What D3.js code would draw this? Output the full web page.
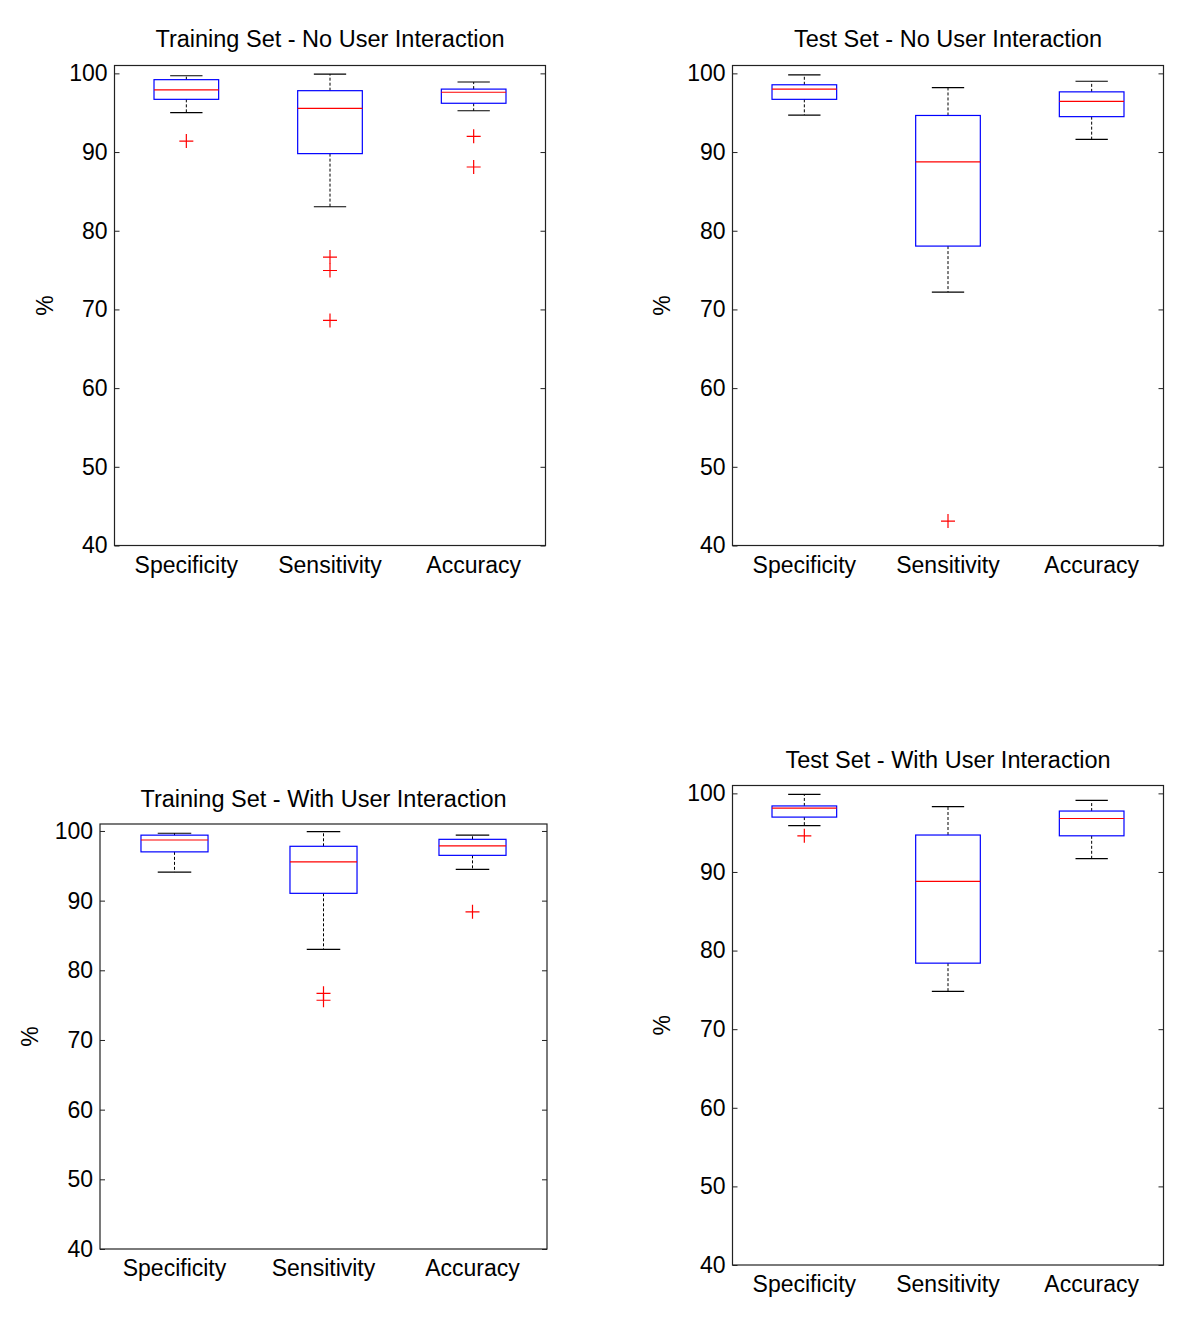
<!DOCTYPE html>
<html>
<head>
<meta charset="utf-8">
<script src="https://cdn.jsdelivr.net/npm/d3@7"></script>
<style>
  html, body { margin: 0; padding: 0; background: #fff; }
  svg { display: block; }
  text { font-family: "Liberation Sans", Arial, Helvetica, sans-serif; fill: #000; }
</style>
</head>
<body>
<svg id="chart" width="1200" height="1324"></svg>
<script>
// ---------- DATA ----------
const categories = ["Specificity", "Sensitivity", "Accuracy"];
const yTicks = [40, 50, 60, 70, 80, 90, 100];
const titles = [
  "Training Set - No User Interaction",
  "Test Set - No User Interaction",
  "Training Set - With User Interaction",
  "Test Set - With User Interaction"
];
const yLabel = "%";

// box stats per category: [lower whisker, Q1, median, Q3, upper whisker]
const trainNoUI = [
  [95.0, 96.7, 97.9, 99.2, 99.7],
  [83.05, 89.8, 95.55, 97.8, 99.9],
  [95.25, 96.2, 97.6, 98.0, 98.9]
];
const trainNoUIOutliers = [[91.4], [76.65, 74.95, 68.6], [92.0, 88.1]];

const testNoUI = [
  [94.7, 96.7, 98.0, 98.55, 99.8],
  [72.2, 78.05, 88.75, 94.65, 98.2],
  [91.6, 94.5, 96.45, 97.65, 99.0]
];
const testNoUIOutliers = [[], [43.1], []];

const trainWithUI = [
  [94.1, 97.0, 98.7, 99.4, 99.67],
  [83.0, 91.05, 95.55, 97.8, 99.9],
  [94.5, 96.5, 97.85, 98.8, 99.4]
];
const trainWithUIOutliers = [[], [76.7, 75.7], [88.4]];

const testWithUI = [
  [95.9, 96.98, 98.13, 98.4, 99.87],
  [74.8, 78.4, 88.8, 94.7, 98.3],
  [91.7, 94.6, 96.8, 97.75, 99.1]
];
const testWithUIOutliers = [[94.6], [], []];

// ---------- LAYOUT ----------
const yDomain = [40, 101];
const boxWidth = 0.45;   // in category units
const capWidth = 0.225;
const layouts = [
  { left: 114.5, right: 545.5, top: 65.5, bottom: 545.5, titleY: 47, ylabX: 45 },
  { left: 732.5, right: 1163.5, top: 65.5, bottom: 545.5, titleY: 47, ylabX: 662 },
  { left: 100, right: 547, top: 824, bottom: 1249, titleY: 806.5, ylabX: 30 },
  { left: 732.5, right: 1163.5, top: 785.5, bottom: 1265, titleY: 768, ylabX: 662 }
];
const panelStats = [trainNoUI, testNoUI, trainWithUI, testWithUI];
const panelOutliers = [trainNoUIOutliers, testNoUIOutliers, trainWithUIOutliers, testWithUIOutliers];

const svg = d3.select("#chart");
const FS = 23;

panelStats.forEach((stats, pi) => {
  const L = layouts[pi];
  const x = d3.scaleLinear().domain([0.5, 3.5]).range([L.left, L.right]);
  const y = d3.scaleLinear().domain(yDomain).range([L.bottom, L.top]);
  const g = svg.append("g");

  // left axis with inward ticks
  const la = g.append("g").attr("transform", `translate(${L.left},0)`)
    .call(d3.axisLeft(y).tickValues(yTicks).tickSizeInner(-5).tickSizeOuter(0).tickPadding(7));
  la.select(".domain").remove();
  la.selectAll("line").attr("stroke", "#222");
  la.selectAll("text").attr("font-size", FS).attr("font-family", "Liberation Sans, Arial, sans-serif").attr("fill", "#000");

  const ra = g.append("g").attr("transform", `translate(${L.right},0)`)
    .call(d3.axisRight(y).tickValues(yTicks).tickSizeInner(-5).tickSizeOuter(0).tickFormat(""));
  ra.select(".domain").remove();
  ra.selectAll("line").attr("stroke", "#222");

  // frame
  g.append("rect")
    .attr("x", L.left).attr("y", L.top)
    .attr("width", L.right - L.left).attr("height", L.bottom - L.top)
    .attr("fill", "none").attr("stroke", "#222").attr("stroke-width", 1.2);

  // category labels
  g.selectAll("text.cat").data(categories).join("text")
    .attr("class", "cat")
    .attr("x", (d, i) => x(i + 1))
    .attr("y", L.bottom + 27)
    .attr("text-anchor", "middle")
    .attr("font-size", FS)
    .text(d => d);

  // title
  g.append("text")
    .attr("x", (L.left + L.right) / 2)
    .attr("y", L.titleY)
    .attr("text-anchor", "middle")
    .attr("font-size", 23.5)
    .text(titles[pi]);

  // y label
  g.append("text")
    .attr("transform", `translate(${L.ylabX},${(L.top + L.bottom) / 2}) rotate(-90)`)
    .attr("text-anchor", "middle")
    .attr("dy", "0.35em")
    .attr("font-size", FS)
    .text(yLabel);

  // boxes
  stats.forEach((s, i) => {
    const c = i + 1;
    const [lw, q1, med, q3, uw] = s;
    const bg = g.append("g");
    // whiskers (dashed)
    bg.append("line").attr("x1", x(c)).attr("x2", x(c)).attr("y1", y(q3)).attr("y2", y(uw))
      .attr("stroke", "#000").attr("stroke-width", 1).attr("stroke-dasharray", "3,2");
    bg.append("line").attr("x1", x(c)).attr("x2", x(c)).attr("y1", y(q1)).attr("y2", y(lw))
      .attr("stroke", "#000").attr("stroke-width", 1).attr("stroke-dasharray", "3,2");
    // caps
    [lw, uw].forEach(v => {
      bg.append("line")
        .attr("x1", x(c - capWidth / 2)).attr("x2", x(c + capWidth / 2))
        .attr("y1", y(v)).attr("y2", y(v))
        .attr("stroke", "#000").attr("stroke-width", 1.2);
    });
    // box
    bg.append("rect")
      .attr("x", x(c - boxWidth / 2)).attr("y", y(q3))
      .attr("width", x(c + boxWidth / 2) - x(c - boxWidth / 2))
      .attr("height", y(q1) - y(q3))
      .attr("fill", "none").attr("stroke", "#0000ff").attr("stroke-width", 1.2);
    // median
    bg.append("line")
      .attr("x1", x(c - boxWidth / 2)).attr("x2", x(c + boxWidth / 2))
      .attr("y1", y(med)).attr("y2", y(med))
      .attr("stroke", "#ff0000").attr("stroke-width", 1.2);
    // outliers
    panelOutliers[pi][i].forEach(v => {
      const px = x(c), py = y(v);
      bg.append("path")
        .attr("d", `M${px - 7},${py}H${px + 7}M${px},${py - 7}V${py + 7}`)
        .attr("stroke", "#ff0000").attr("stroke-width", 1.2).attr("fill", "none");
    });
  });
});
</script>
</body>
</html>
